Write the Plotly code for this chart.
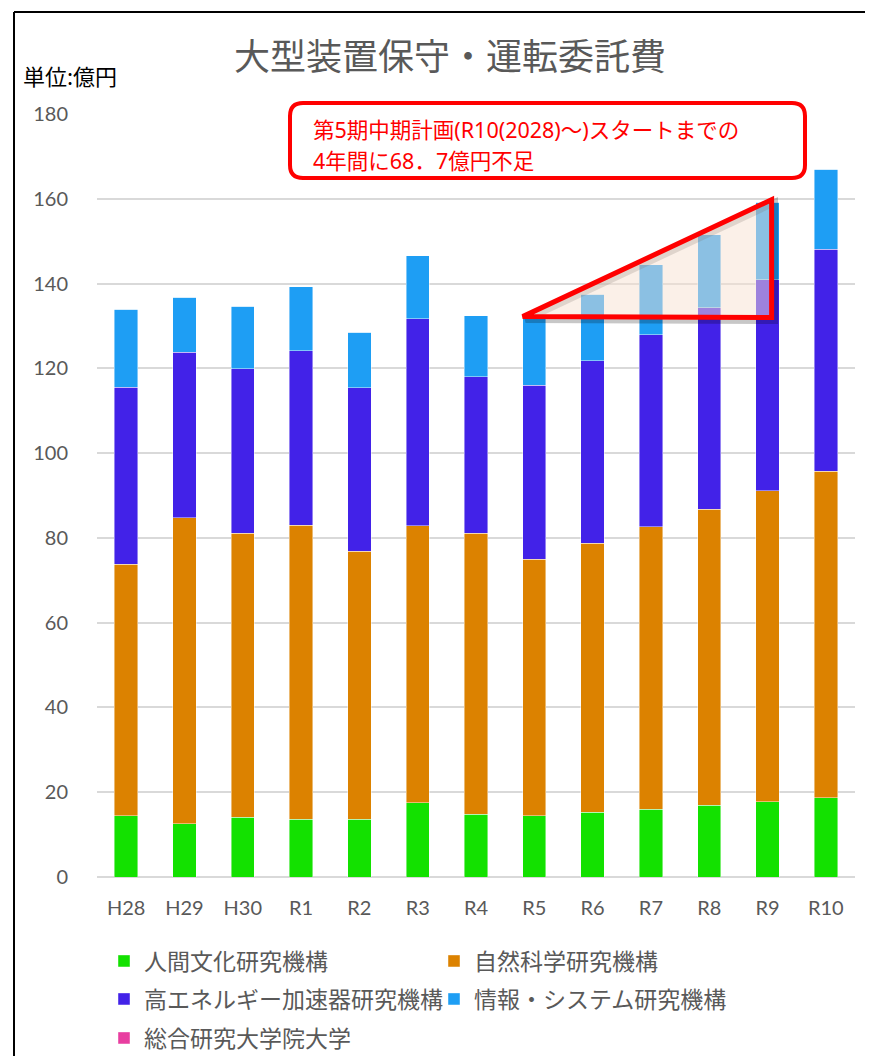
import plotly.graph_objects as go

# 年度
years = ["H28", "H29", "H30", "R1", "R2", "R3", "R4", "R5", "R6", "R7", "R8", "R9", "R10"]

# 各機構の大型装置保守・運転委託費（億円）
jinbun = [14.4, 12.6, 14.1, 13.6, 13.6, 17.5, 14.8, 14.5, 15.3, 16.0, 16.9, 17.8, 18.7]
shizen = [59.4, 72.1, 67.0, 69.4, 63.3, 65.4, 66.3, 60.5, 63.4, 66.6, 69.9, 73.3, 77.0]
kou_ene = [41.7, 39.1, 38.8, 41.2, 38.5, 48.8, 36.9, 41.0, 43.1, 45.3, 47.5, 49.8, 52.4]
jouhou = [18.4, 13.0, 14.8, 15.0, 13.1, 14.9, 14.4, 15.8, 15.7, 16.5, 17.2, 18.3, 18.9]
souken = [0, 0, 0, 0, 0, 0, 0, 0, 0, 0, 0, 0, 0]

series = [
    ("人間文化研究機構", jinbun, "#13E100", "legend"),
    ("自然科学研究機構", shizen, "#DC8200", "legend"),
    ("高エネルギー加速器研究機構", kou_ene, "#4222E8", "legend2"),
    ("情報・システム研究機構", jouhou, "#1E9EF4", "legend2"),
    ("総合研究大学院大学", souken, "#E83EA0", "legend3"),
]

# 不足分を示す三角形（x は年度の位置、y は億円）
tri_x = [6.8, 11.07, 11.07]
tri_y = [132.2, 159.8, 132.0]

# ページの余白(8px)を差し引いた図の大きさ
OFF = 8
W, H = 873 - OFF, 1064 - 2 * OFF
L, T = 97 - OFF, 114 - OFF
R = W - (855 - OFF)
B = H - (877 - OFF)
pw, ph = W - L - R, H - T - B

def fx(x):
    # 画面上のx座標 -> paper座標
    return (x - OFF - L) / pw

def fy(y):
    return (H - B - (y - OFF)) / ph

def cx(x):
    # 画面上のx座標 -> container座標
    return (x - OFF) / W

def cy(y):
    return 1 - (y - OFF) / H

fig = go.Figure()
xs = list(range(len(years)))
for name, vals, col, lg in series:
    fig.add_trace(go.Bar(
        x=xs, y=vals, name=name, legend=lg,
        marker=dict(color=col, line=dict(color="rgba(255,255,255,0.55)", width=0.8)),
    ))

# 三角形の影と本体
shadow = "M{},{} L{},{} L{},{} Z".format(
    tri_x[0] + 0.05, tri_y[0] - 0.7, tri_x[1] + 0.05, tri_y[1] - 0.7, tri_x[2] + 0.05, tri_y[2] - 0.7)
fig.add_shape(type="path", path=shadow, xref="x", yref="y", layer="above",
              line=dict(color="rgba(0,0,0,0.22)", width=7), fillcolor="rgba(0,0,0,0)")
tri = "M{},{} L{},{} L{},{} Z".format(tri_x[0], tri_y[0], tri_x[1], tri_y[1], tri_x[2], tri_y[2])
fig.add_shape(type="path", path=tri, xref="x", yref="y", layer="above",
              line=dict(color="#FF0000", width=5), fillcolor="rgba(248,225,209,0.5)")

# 角丸の吹き出し枠
bx0, bx1, by0, by1, r = 290, 805, 103, 178, 13
rx, ry = r / pw, r / ph
x0, x1, y0, y1 = fx(bx0), fx(bx1), fy(by1), fy(by0)
box = (f"M{x0 + rx},{y1} L{x1 - rx},{y1} Q{x1},{y1} {x1},{y1 - ry} "
       f"L{x1},{y0 + ry} Q{x1},{y0} {x1 - rx},{y0} L{x0 + rx},{y0} "
       f"Q{x0},{y0} {x0},{y0 + ry} L{x0},{y1 - ry} Q{x0},{y1} {x0 + rx},{y1} Z")
fig.add_shape(type="path", path=box, xref="paper", yref="paper",
              line=dict(color="#FF0000", width=4), fillcolor="white")

note_lines = ["第5期中期計画(R10(2028)～)スタートまでの", "4年間に68．7億円不足"]
for line, ly in zip(note_lines, [129, 160]):
    fig.add_annotation(
        x=fx(312), y=fy(ly), xref="paper", yref="paper",
        xanchor="left", yanchor="middle", align="left", showarrow=False, borderpad=0,
        text=line, font=dict(family="Noto Sans, Noto Sans CJK JP", size=21.5, color="#FF0000"),
    )

# 単位
fig.add_annotation(
    x=fx(21), y=fy(75), xref="paper", yref="paper",
    xanchor="left", yanchor="middle", showarrow=False,
    text="単位:億円", font=dict(family="Noto Sans CJK JP", size=22, color="#000000"),
)

# 外枠
fig.add_shape(type="line", xref="paper", yref="paper",
              x0=fx(14), x1=fx(880), y0=fy(12), y1=fy(12),
              line=dict(color="#000000", width=2))
fig.add_shape(type="line", xref="paper", yref="paper",
              x0=fx(14), x1=fx(14), y0=fy(12), y1=fy(1070),
              line=dict(color="#000000", width=2))

legend_font = dict(family="Noto Sans CJK JP", size=23, color="#595959")
legend_common = dict(orientation="h", traceorder="normal", xanchor="left", yanchor="middle",
                     xref="container", yref="container",
                     entrywidth=285, entrywidthmode="pixels", font=legend_font,
                     bgcolor="rgba(0,0,0,0)")

fig.update_layout(
    width=W, height=H,
    margin=dict(l=L, r=R, t=T, b=B, autoexpand=False),
    barmode="stack", bargap=0.6,
    plot_bgcolor="white", paper_bgcolor="white",
    title=dict(text="大型装置保守・運転委託費", xref="container", yref="container",
               x=cx(450), y=cy(57), xanchor="center", yanchor="middle",
               font=dict(family="Noto Sans CJK JP", size=36, color="#595959")),
    font=dict(family="Noto Sans CJK JP", color="#595959"),
    showlegend=True,
    legend=dict(x=cx(104), y=cy(961), **legend_common),
    legend2=dict(x=cx(104), y=cy(999), **legend_common),
    legend3=dict(x=cx(104), y=cy(1038), **legend_common),
)
fig.update_xaxes(tickvals=xs, ticktext=years, range=[-0.5, len(years) - 0.5],
                 showgrid=False, zeroline=False, ticks="", ticklabelstandoff=17,
                 tickfont=dict(family="Lato", size=20, color="#595959"))
fig.update_yaxes(range=[0, 180], dtick=20, showgrid=True, gridcolor="#D9D9D9", gridwidth=1.5,
                 zeroline=True, zerolinecolor="#D9D9D9", zerolinewidth=1.5,
                 ticks="", ticklabelstandoff=28,
                 tickfont=dict(family="Lato", size=20, color="#595959"))

fig.write_html("out.html")
